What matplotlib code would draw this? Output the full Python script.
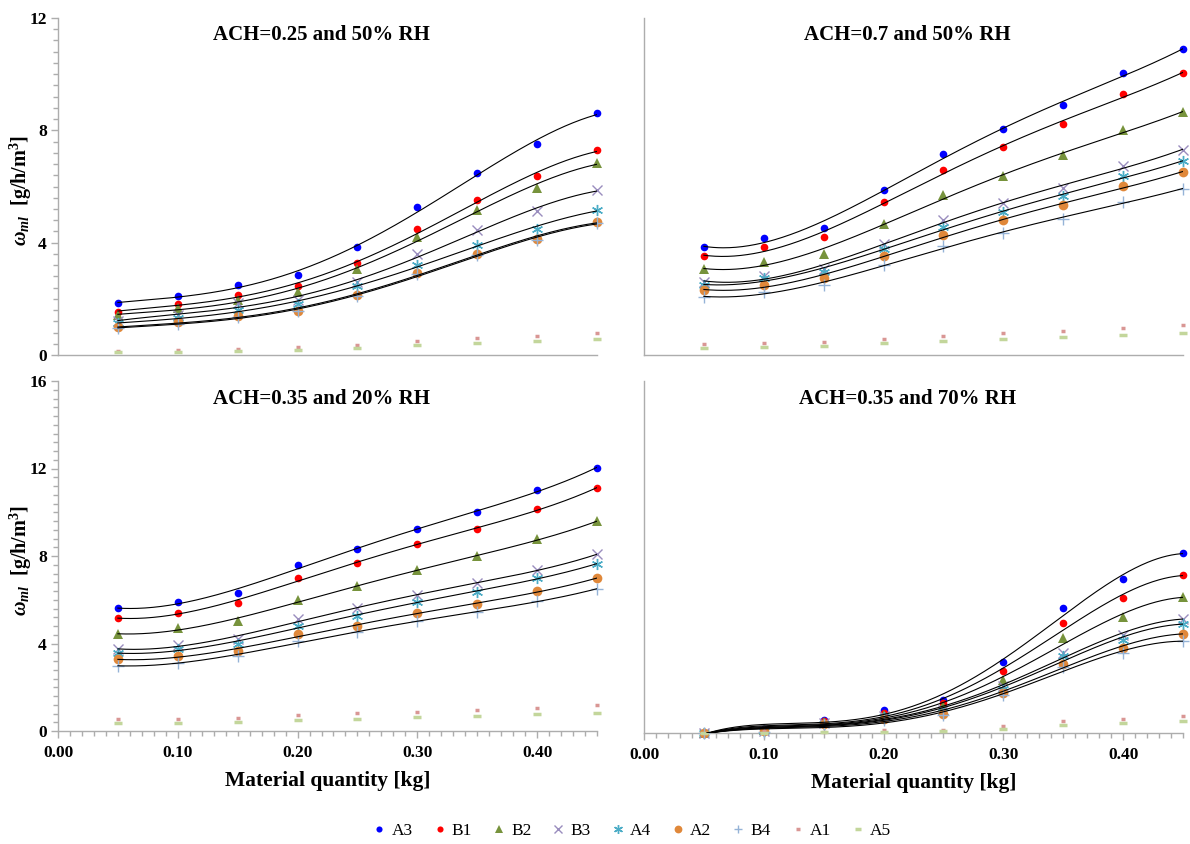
import numpy as np
import matplotlib
matplotlib.use("Agg")
import matplotlib.pyplot as plt
from matplotlib.ticker import MultipleLocator, FormatStrFormatter
from matplotlib.lines import Line2D

# ---------------- data ----------------
x_kg = [0.05, 0.10, 0.15, 0.20, 0.25, 0.30, 0.35, 0.40, 0.45]
series_names = ["A3", "B1", "B2", "B3", "A4", "A2", "B4", "A1", "A5"]
fitted_series = ["A3", "B1", "B2", "B3", "A4", "A2", "B4"]

titles = ["ACH=0.25 and 50% RH", "ACH=0.7 and 50% RH",
          "ACH=0.35 and 20% RH", "ACH=0.35 and 70% RH"]

# Panel 1: ACH=0.25, 50% RH
p1_A3 = [1.84, 2.11, 2.48, 2.84, 3.83, 5.26, 6.48, 7.50, 8.62]
p1_B1 = [1.54, 1.81, 2.13, 2.44, 3.26, 4.47, 5.51, 6.36, 7.30]
p1_B2 = [1.42, 1.66, 1.95, 2.24, 3.05, 4.21, 5.15, 5.96, 6.84]
p1_B3 = [1.22, 1.42, 1.84, 1.95, 2.61, 3.61, 4.44, 5.12, 5.88]
p1_A4 = [1.13, 1.30, 1.62, 1.81, 2.45, 3.20, 3.93, 4.50, 5.16]
p1_A2 = [0.98, 1.16, 1.39, 1.58, 2.14, 2.93, 3.61, 4.14, 4.74]
p1_B4 = [0.95, 1.12, 1.35, 1.55, 2.10, 2.88, 3.57, 4.10, 4.70]
p1_A1 = [0.15, 0.18, 0.21, 0.27, 0.36, 0.51, 0.62, 0.69, 0.80]
p1_A5 = [0.12, 0.12, 0.15, 0.18, 0.24, 0.36, 0.44, 0.50, 0.57]

# Panel 2: ACH=0.7, 50% RH
p2_A3 = [3.83, 4.17, 4.54, 5.89, 7.16, 8.03, 8.91, 10.04, 10.88]
p2_B1 = [3.52, 3.83, 4.19, 5.44, 6.59, 7.42, 8.23, 9.28, 10.04]
p2_B2 = [3.05, 3.32, 3.61, 4.68, 5.69, 6.37, 7.11, 8.00, 8.65]
p2_B3 = [2.61, 2.82, 3.05, 3.97, 4.82, 5.41, 5.95, 6.73, 7.31]
p2_A4 = [2.49, 2.73, 2.96, 3.79, 4.56, 5.09, 5.65, 6.37, 6.90]
p2_A2 = [2.31, 2.51, 2.73, 3.52, 4.29, 4.80, 5.33, 6.01, 6.52]
p2_B4 = [2.07, 2.25, 2.49, 3.20, 3.87, 4.36, 4.86, 5.45, 5.92]
p2_A1 = [0.39, 0.41, 0.45, 0.57, 0.69, 0.78, 0.86, 0.97, 1.07]
p2_A5 = [0.26, 0.30, 0.33, 0.41, 0.50, 0.56, 0.65, 0.71, 0.79]

# Panel 3: ACH=0.35, 20% RH
p3_A3 = [5.61, 5.88, 6.33, 7.59, 8.31, 9.23, 9.99, 11.02, 12.03]
p3_B1 = [5.15, 5.41, 5.84, 7.01, 7.67, 8.54, 9.23, 10.15, 11.11]
p3_B2 = [4.43, 4.69, 5.01, 6.01, 6.62, 7.34, 7.98, 8.77, 9.58]
p3_B3 = [3.74, 3.94, 4.20, 5.12, 5.62, 6.22, 6.75, 7.37, 8.07]
p3_A4 = [3.55, 3.73, 4.00, 4.81, 5.27, 5.91, 6.34, 7.00, 7.64]
p3_A2 = [3.27, 3.41, 3.67, 4.43, 4.81, 5.38, 5.81, 6.39, 6.98]
p3_B4 = [2.98, 3.13, 3.41, 4.13, 4.51, 5.01, 5.42, 5.96, 6.49]
p3_A1 = [0.53, 0.57, 0.61, 0.73, 0.83, 0.89, 0.96, 1.07, 1.19]
p3_A5 = [0.38, 0.38, 0.43, 0.52, 0.57, 0.64, 0.69, 0.76, 0.83]

# Panel 4: ACH=0.35, 70% RH
p4_A3 = [0.00, 0.20, 0.61, 1.06, 1.52, 3.22, 5.69, 7.01, 8.19]
p4_B1 = [0.00, 0.15, 0.55, 0.91, 1.36, 2.82, 5.00, 6.13, 7.19]
p4_B2 = [0.00, 0.12, 0.50, 0.83, 1.21, 2.43, 4.32, 5.28, 6.19]
p4_B3 = [0.00, 0.10, 0.45, 0.77, 1.03, 2.12, 3.64, 4.44, 5.20]
p4_A4 = [0.00, 0.10, 0.43, 0.73, 0.96, 2.02, 3.49, 4.25, 4.97]
p4_A2 = [0.00, 0.08, 0.39, 0.65, 0.88, 1.83, 3.15, 3.87, 4.52]
p4_B4 = [0.00, 0.05, 0.35, 0.58, 0.80, 1.71, 3.00, 3.64, 4.19]
p4_A1 = [0.00, 0.09, 0.05, 0.12, 0.15, 0.30, 0.55, 0.65, 0.76]
p4_A5 = [0.00, 0.02, 0.03, 0.05, 0.09, 0.20, 0.38, 0.47, 0.55]

panels = [
    dict(zip(series_names, [p1_A3, p1_B1, p1_B2, p1_B3, p1_A4, p1_A2, p1_B4, p1_A1, p1_A5])),
    dict(zip(series_names, [p2_A3, p2_B1, p2_B2, p2_B3, p2_A4, p2_A2, p2_B4, p2_A1, p2_A5])),
    dict(zip(series_names, [p3_A3, p3_B1, p3_B2, p3_B3, p3_A4, p3_A2, p3_B4, p3_A1, p3_A5])),
    dict(zip(series_names, [p4_A3, p4_B1, p4_B2, p4_B3, p4_A4, p4_A2, p4_B4, p4_A1, p4_A5])),
]

# ---------------- styles ----------------
styles = {
    "A3": dict(marker="o", color="#0000FF", ms=5.5, mew=0),
    "B1": dict(marker="o", color="#FF0000", ms=5.5, mew=0),
    "B2": dict(marker="^", color="#77933C", ms=7, mew=0),
    "B3": dict(marker="x", color="#9A8DBE", ms=7.5, mew=1.0),
    "A4": dict(marker=(6, 2, 0), color="#4BACC6", ms=8, mew=1.0),
    "A2": dict(marker="o", color="#E0883A", ms=7, mew=0),
    "B4": dict(marker="+", color="#95B3D7", ms=8, mew=1.0),
    "A1": dict(marker="_", color="#D99694", ms=3.5, mew=2.5),
    "A5": dict(marker="_", color="#C3D69B", ms=6, mew=2.5),
}

plt.rcParams["font.family"] = ["Liberation Serif", "DejaVu Serif"]
plt.rcParams["font.weight"] = "bold"
plt.rcParams["mathtext.fontset"] = "custom"
plt.rcParams["mathtext.rm"] = "Liberation Serif:bold"
plt.rcParams["mathtext.it"] = "Liberation Serif:italic:bold"
plt.rcParams["mathtext.bf"] = "Liberation Serif:bold"

W, H = 1190, 844
fig = plt.figure(figsize=(W / 100, H / 100), dpi=100)

def fax(l, t, r, b):
    return fig.add_axes([l / W, 1 - b / H, (r - l) / W, (b - t) / H])

axes = [fax(58, 18, 597, 355), fax(644, 18, 1183, 355),
        fax(58, 381, 597, 731), fax(644, 381, 1183, 733)]
ylims = [12, 12, 16, 16]
spine_c = "#ADADAD"
fit_deg = 4

xfit = np.linspace(0.05, 0.45, 300)
for i, ax in enumerate(axes):
    data = panels[i]
    for name in series_names:
        st = styles[name]
        ax.plot(x_kg, data[name], linestyle="none", marker=st["marker"],
                color=st["color"], ms=st["ms"], mew=st["mew"],
                mec=st["color"], zorder=3, clip_on=False)
    for name in fitted_series:
        c = np.polyfit(x_kg, data[name], fit_deg)
        ax.plot(xfit, np.polyval(c, xfit), color="black", lw=0.8, zorder=4)
    ax.set_xlim(0, 0.45)
    ax.set_ylim(0, ylims[i])
    for s in ["top", "right"]:
        ax.spines[s].set_visible(False)
    for s in ["left", "bottom"]:
        ax.spines[s].set_color(spine_c)
        ax.spines[s].set_linewidth(1.0)
    ax.tick_params(which="both", direction="out", color=spine_c, labelsize=12.5)
    ax.tick_params(which="major", length=5, width=1)
    ax.tick_params(which="minor", length=3.5, width=1)
    ax.text(0.489, 0.978, titles[i], transform=ax.transAxes, ha="center",
            va="top", fontsize=15, fontweight="bold")
    # y axis
    if i in (0, 2):
        ax.yaxis.set_major_locator(MultipleLocator(4))
        ax.yaxis.set_minor_locator(MultipleLocator(0.4))
        ax.tick_params(axis="y", pad=3)
    else:
        ax.yaxis.set_major_locator(plt.NullLocator())
        ax.yaxis.set_minor_locator(plt.NullLocator())
    # x axis
    if i in (2, 3):
        ax.xaxis.set_major_locator(MultipleLocator(0.1))
        ax.xaxis.set_minor_locator(MultipleLocator(0.01))
        ax.xaxis.set_major_formatter(FormatStrFormatter("%.2f"))
        ax.tick_params(axis="x", pad=5)
        ax.set_xlabel("Material quantity [kg]", fontsize=15.5, fontweight="bold", labelpad=7)
    else:
        ax.xaxis.set_major_locator(plt.NullLocator())
        ax.xaxis.set_minor_locator(plt.NullLocator())

ylab = r"$\omega_{ml}\ \ \mathrm{[g/h/m^{3}]}$"
fig.text(21 / W, 1 - 190 / H, ylab, rotation=90, ha="center", va="center", fontsize=14.5)
fig.text(21 / W, 1 - 560 / H, ylab, rotation=90, ha="center", va="center", fontsize=14.5)

handles = []
for name in series_names:
    st = styles[name]
    handles.append(Line2D([], [], linestyle="none", marker=st["marker"], color=st["color"],
                          ms=st["ms"] * 0.8, mew=st["mew"], mec=st["color"]))
fig.legend(handles, series_names, loc="center", bbox_to_anchor=(0.531, 1 - 831 / H),
           ncol=9, frameon=False, prop={"family": "Liberation Serif", "weight": "normal", "size": 12.5},
           handlelength=0.8, handletextpad=0.3, columnspacing=1.15)

fig.savefig("out.png", dpi=100)
